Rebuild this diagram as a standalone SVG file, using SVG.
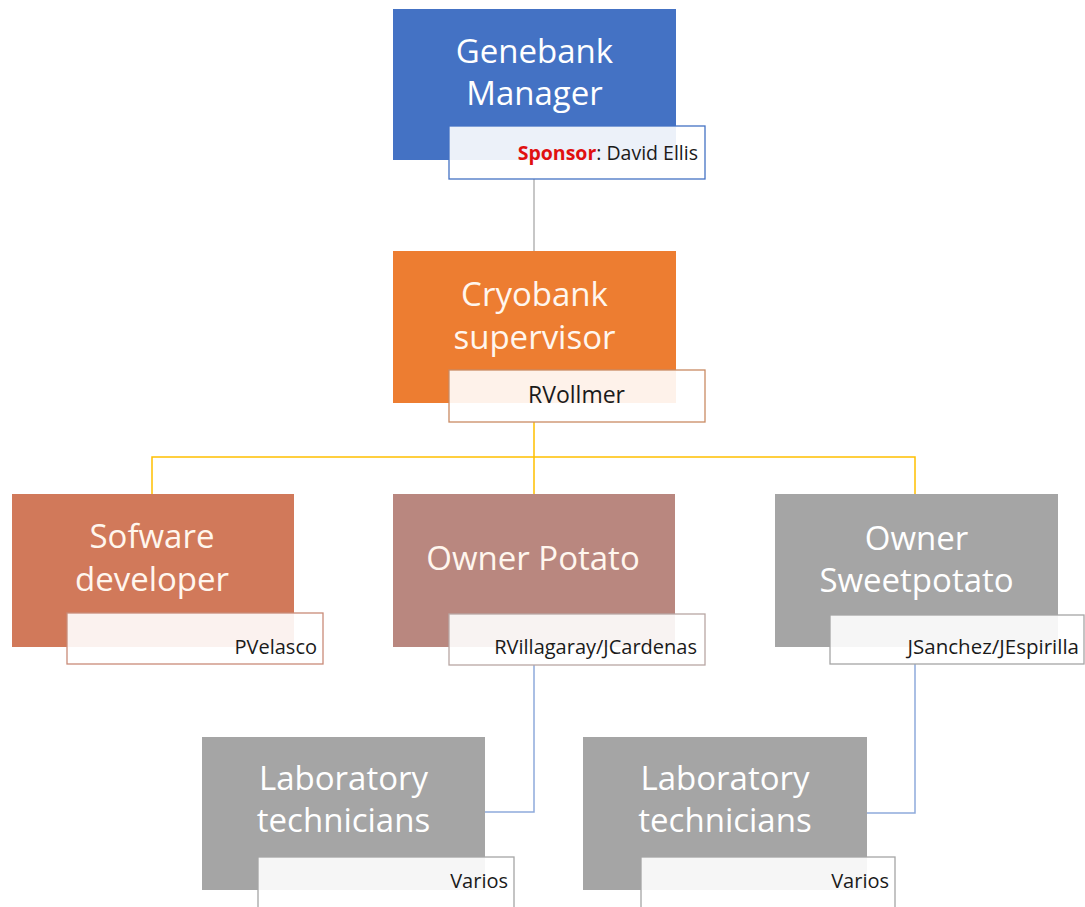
<svg xmlns="http://www.w3.org/2000/svg" width="1085" height="907" viewBox="0 0 1085 907">
  <style>
    .title { font-family: "Open Sans", "Liberation Sans", sans-serif; font-size: 33px; fill: #ffffff; text-anchor: middle; }
    .warm { fill: #fff6ee; }
    .name { font-family: "Open Sans", "Liberation Sans", sans-serif; font-size: 20px; fill: #1a1a1a; text-anchor: end; }
    .label { fill: #ffffff; fill-opacity: 0.9; stroke-width: 1.3; }
    .link { fill: none; stroke-width: 1.5; }
  </style>
  <rect width="1085" height="907" fill="#ffffff"/>

  <!-- connectors -->
  <g id="connectors">
    <line class="link" x1="534" y1="179" x2="534" y2="251" stroke="#b4b4b4"/>
    <path class="link" d="M534,422 V457 M152,494 V457 H915 V494 M534,457 V494" stroke="#ffc000"/>
    <path class="link" d="M534,665 V812 H485" stroke="#8eaadb"/>
    <path class="link" d="M915,664 V813 H867" stroke="#8eaadb"/>
  </g>

  <!-- Genebank Manager -->
  <g id="genebank-manager">
    <rect x="393" y="9" width="283" height="151" fill="#4472c4"/>
    <text class="title" x="534.5" y="63">Genebank</text>
    <text class="title" x="534.5" y="105">Manager</text>
    <rect class="label" x="449" y="126" width="256" height="53" stroke="#4472c4"/>
    <text class="name" x="698" y="160" style="font-size:19.5px"><tspan fill="#e01010" font-weight="bold">Sponsor</tspan>: David Ellis</text>
  </g>

  <!-- Cryobank supervisor -->
  <g id="cryobank-supervisor">
    <rect x="393" y="251" width="283" height="152" fill="#ed7d31"/>
    <text class="title warm" x="534.5" y="306">Cryobank</text>
    <text class="title warm" x="534.5" y="349">supervisor</text>
    <rect class="label" x="449" y="370" width="256" height="52" stroke="#c98a63"/>
    <text class="name" x="625" y="403" style="font-size:23px">RVollmer</text>
  </g>

  <!-- Software developer -->
  <g id="software-developer">
    <rect x="12" y="494" width="282" height="153" fill="#d1795a"/>
    <text class="title warm" x="152" y="548">Sofware</text>
    <text class="title warm" x="152" y="591">developer</text>
    <rect class="label" x="67" y="613" width="256" height="51" stroke="#c98b78"/>
    <text class="name" x="317" y="654">PVelasco</text>
  </g>

  <!-- Owner Potato -->
  <g id="owner-potato">
    <rect x="393" y="494" width="282" height="153" fill="#b9877f"/>
    <text class="title warm" x="533" y="570">Owner Potato</text>
    <rect class="label" x="449" y="614" width="256" height="51" stroke="#b8a7a4"/>
    <text class="name" x="697" y="654">RVillagaray/JCardenas</text>
  </g>

  <!-- Owner Sweetpotato -->
  <g id="owner-sweetpotato">
    <rect x="775" y="494" width="283" height="153" fill="#a5a5a5"/>
    <text class="title" x="916.5" y="550">Owner</text>
    <text class="title" x="916.5" y="592">Sweetpotato</text>
    <rect class="label" x="830" y="615" width="254" height="49" stroke="#a5a5a5"/>
    <text class="name" x="1079" y="654" style="font-size:20.5px">JSanchez/JEspirilla</text>
  </g>

  <!-- Laboratory technicians (potato) -->
  <g id="lab-technicians-potato">
    <rect x="202" y="737" width="283" height="153" fill="#a5a5a5"/>
    <text class="title" x="343.5" y="790">Laboratory</text>
    <text class="title" x="343.5" y="832">technicians</text>
    <rect class="label" x="258" y="857" width="256" height="60" stroke="#a5a5a5"/>
    <text class="name" x="508" y="888">Varios</text>
  </g>

  <!-- Laboratory technicians (sweetpotato) -->
  <g id="lab-technicians-sweetpotato">
    <rect x="583" y="737" width="284" height="153" fill="#a5a5a5"/>
    <text class="title" x="725" y="790">Laboratory</text>
    <text class="title" x="725" y="832">technicians</text>
    <rect class="label" x="641" y="857" width="254" height="60" stroke="#a5a5a5"/>
    <text class="name" x="889" y="888">Varios</text>
  </g>
</svg>
